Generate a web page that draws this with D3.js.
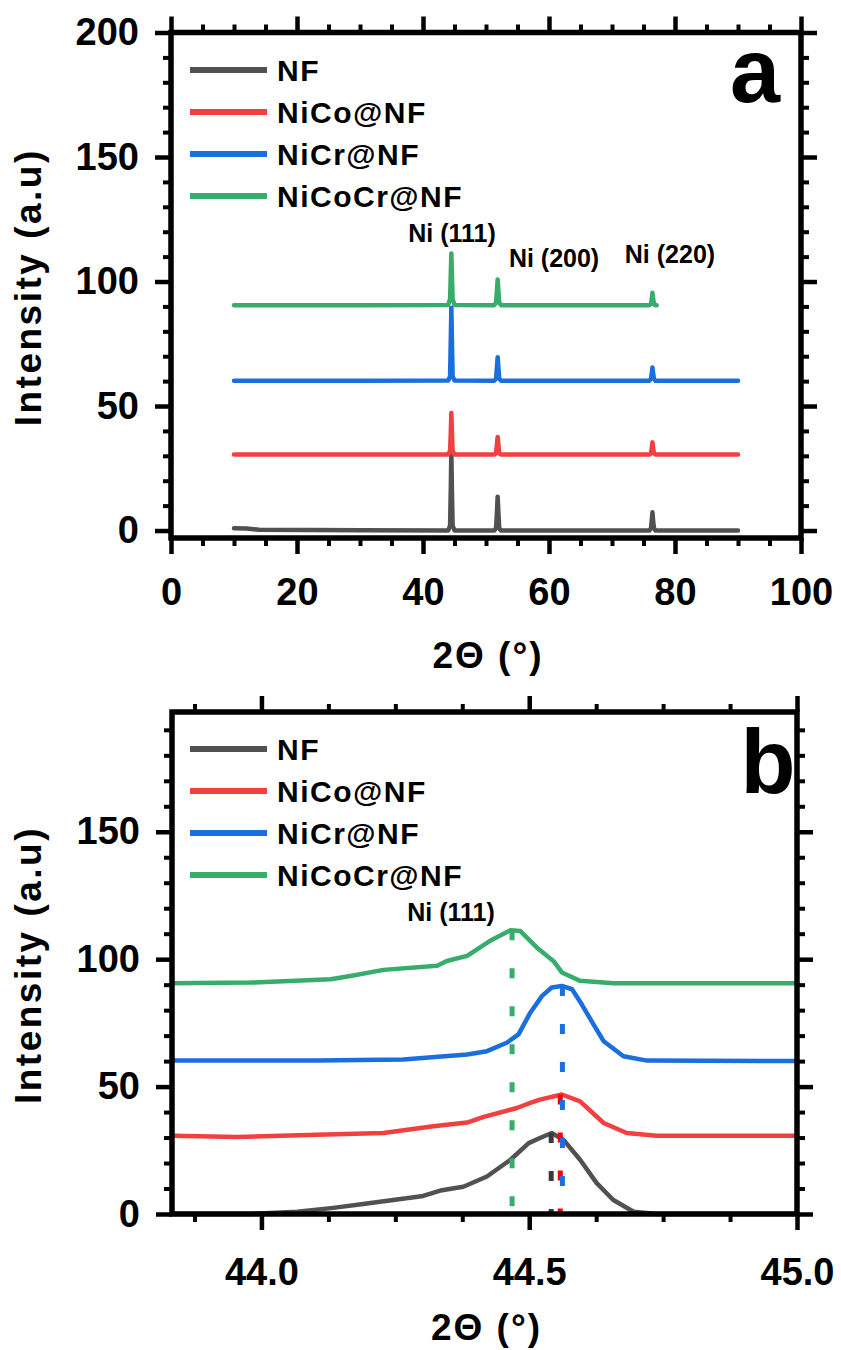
<!DOCTYPE html>
<html>
<head>
<meta charset="utf-8">
<script src="https://cdn.jsdelivr.net/npm/d3@7"></script>
<style>
  html, body { margin: 0; padding: 0; background: #fff; }
  svg { display: block; }
</style>
</head>
<body>
<div id="chart"></div>
<script>
// ---------- DATA ----------
const seriesNames = ["NF", "NiCo@NF", "NiCr@NF", "NiCoCr@NF"];
const seriesColors = ["#515151", "#F14040", "#1A6FDF", "#37AD6B"];
const dashColors = ["#3a3a3a", "#FF0000", "#1A6FDF", "#37AD6B"];

// Panel a: full XRD patterns (2θ in degrees)
const xA = [10, 12, 14, 30, 44.0, 44.3, 44.42, 44.5, 44.58, 44.7, 45.0,
            51.3, 51.6, 51.75, 51.85, 51.95, 52.1, 52.4,
            75.9, 76.2, 76.33, 76.42, 76.51, 76.65, 76.9, 77.1, 90];
const aNF     = [0.9, 0.8, 0.3, 0.1, 0, 2, 18, 31.8, 18, 2, 0, 0, 1, 8, 13.6, 8, 1, 0, 0, 1, 4.5, 7.3, 4.5, 1, 0, 0, 0];
const aNiCo   = [30.5, 30.5, 30.5, 30.5, 30.5, 32, 40, 47.2, 40, 32, 30.5, 30.5, 31, 35, 37.6, 35, 31, 30.5, 30.5, 31, 33.5, 35.4, 33.5, 31, 30.5, 30.5, 30.5];
const aNiCr   = [60.1, 60.1, 60.1, 60.1, 60.2, 62, 78, 89.5, 78, 62, 60.2, 60.1, 61, 66, 69.6, 66, 61, 60.1, 60.1, 61, 63.5, 65.5, 63.5, 61, 60.1, 60.1, 60.1];
const aNiCoCr = [90.5, 90.5, 90.5, 90.5, 90.6, 93, 104, 111.3, 104, 93, 90.6, 90.5, 91.5, 97, 100.8, 97, 91.5, 90.5, 90.5, 91, 93.5, 95.5, 93.5, 91, 90.5, 90.5, null];

const aXTicks = [0, 20, 40, 60, 80, 100];
const aYTicks = [0, 50, 100, 150, 200];
const aPeakLabels = ["Ni (111)", "Ni (200)", "Ni (220)"];
const aPeakLabelX = [44.6, 60.8, 79.2];
const aPeakLabelY = [116, 106, 107.5];

// Panel b: zoom on the Ni (111) reflection
const bxNF = [43.833, 43.979, 44.067, 44.134, 44.19, 44.246, 44.302, 44.334, 44.377, 44.421, 44.465, 44.499, 44.52, 44.542, 44.564, 44.595, 44.626, 44.657, 44.695, 44.738, 45.0];
const byNF = [0, 0, 0.9, 2.4, 3.9, 5.5, 7.1, 9.2, 10.7, 14.7, 21.3, 27.8, 29.8, 31.8, 29.1, 21.3, 12.1, 5.5, 0.9, 0, 0];
const bxNiCo = [43.833, 43.955, 44.104, 44.228, 44.321, 44.384, 44.415, 44.477, 44.502, 44.52, 44.561, 44.595, 44.639, 44.682, 44.738, 44.844, 45.0];
const byNiCo = [30.7, 30.2, 31.1, 31.8, 34.4, 35.9, 38.1, 41.6, 43.6, 44.9, 46.9, 44.2, 35.7, 31.8, 30.7, 30.7, 30.7];
const bxNiCr = [43.833, 44.104, 44.265, 44.384, 44.421, 44.458, 44.48, 44.502, 44.524, 44.542, 44.561, 44.58, 44.598, 44.62, 44.639, 44.676, 44.72, 45.0];
const byNiCr = [60.2, 60.2, 60.6, 62.6, 63.9, 67.2, 70.5, 79.0, 85.6, 88.9, 89.5, 88.2, 82.3, 74.4, 67.8, 61.9, 60.2, 60.0];
const bxNiCoCr = [43.833, 43.979, 44.129, 44.166, 44.228, 44.328, 44.346, 44.384, 44.427, 44.465, 44.483, 44.514, 44.545, 44.561, 44.595, 44.657, 45.0];
const byNiCoCr = [90.6, 90.8, 92.1, 93.4, 95.8, 97.4, 99.3, 101.3, 107.2, 111.4, 111.1, 104.6, 99.3, 94.8, 91.5, 90.6, 90.6];
const bPeakX = [44.541, 44.558, 44.562, 44.468];
const bPeakY = [31.8, 46.9, 89.5, 111.4];

const bXTicks = [44.0, 44.5, 45.0];
const bYTicks = [0, 50, 100, 150];

// ---------- DRAW ----------
const W = 841, H = 1350;
const FONT = "'Liberation Sans', Arial, Helvetica, sans-serif";
const svg = d3.select("#chart").append("svg")
  .attr("width", W).attr("height", H)
  .style("font-family", FONT).style("font-weight", "bold");

function range(a, b, step) {
  const out = [];
  const n = Math.round((b - a) / step);
  for (let i = 0; i <= n; i++) out.push(+(a + i * step).toFixed(6));
  return out;
}

function styleAxis(g, sw) {
  g.select(".domain").remove();
  g.selectAll(".tick line").attr("stroke", "#000").attr("stroke-width", sw);
  g.selectAll(".tick text").attr("fill", "#000").style("font-size", "38px")
    .style("font-weight", "bold").style("font-family", FONT);
}

function drawPanel(cfg) {
  const g = svg.append("g");
  const x = d3.scaleLinear().domain(cfg.xDomain).range([cfg.left, cfg.right]);
  const y = d3.scaleLinear().domain(cfg.yDomain).range([cfg.bottom, cfg.top]);

  const minorX = cfg.xMinor.filter(v => !cfg.xMajor.some(m => Math.abs(m - v) < 1e-6));
  const minorY = cfg.yMinor.filter(v => !cfg.yMajor.some(m => Math.abs(m - v) < 1e-6));

  const axB = g.append("g").attr("transform", `translate(0,${cfg.bottom})`)
    .call(d3.axisBottom(x).tickValues(cfg.xMajor).tickSize(16).tickPadding(cfg.xPad).tickFormat(cfg.xFmt));
  styleAxis(axB, 4.5);
  const axBm = g.append("g").attr("transform", `translate(0,${cfg.bottom})`)
    .call(d3.axisBottom(x).tickValues(minorX).tickSize(8).tickFormat(""));
  styleAxis(axBm, 4);
  const axT = g.append("g").attr("transform", `translate(0,${cfg.top})`)
    .call(d3.axisTop(x).tickValues(cfg.xMajor).tickSize(16).tickFormat(""));
  styleAxis(axT, 4.5);
  const axTm = g.append("g").attr("transform", `translate(0,${cfg.top})`)
    .call(d3.axisTop(x).tickValues(minorX).tickSize(8).tickFormat(""));
  styleAxis(axTm, 4);

  const axL = g.append("g").attr("transform", `translate(${cfg.left},0)`)
    .call(d3.axisLeft(y).tickValues(cfg.yMajor).tickSize(16).tickPadding(16).tickFormat(d3.format("d")));
  styleAxis(axL, 4.5);
  const axLm = g.append("g").attr("transform", `translate(${cfg.left},0)`)
    .call(d3.axisLeft(y).tickValues(minorY).tickSize(8).tickFormat(""));
  styleAxis(axLm, 4);
  const axR = g.append("g").attr("transform", `translate(${cfg.right},0)`)
    .call(d3.axisRight(y).tickValues(cfg.yMajor).tickSize(16).tickFormat(""));
  styleAxis(axR, 4.5);
  const axRm = g.append("g").attr("transform", `translate(${cfg.right},0)`)
    .call(d3.axisRight(y).tickValues(minorY).tickSize(8).tickFormat(""));
  styleAxis(axRm, 4);

  // series
  const line = d3.line().defined(d => d[1] != null).x(d => x(d[0])).y(d => y(d[1]));
  cfg.series.forEach((s, i) => {
    const pts = s.x.map((v, j) => [v, s.y[j]]);
    g.append("path").attr("d", line(pts))
      .attr("fill", "none").attr("stroke", seriesColors[i])
      .attr("stroke-width", cfg.lineWidth)
      .attr("stroke-linejoin", "round").attr("stroke-linecap", cfg.cap);
  });

  // peak dashed markers
  if (cfg.peakX) {
    cfg.peakX.forEach((px, i) => {
      g.append("line")
        .attr("x1", x(px)).attr("x2", x(px))
        .attr("y1", y(cfg.peakY[i])).attr("y2", y(0))
        .attr("stroke", dashColors[i]).attr("stroke-width", 5)
        .attr("stroke-dasharray", "10,28");
    });
  }

  // frame
  g.append("rect").attr("x", cfg.left).attr("y", cfg.top)
    .attr("width", cfg.right - cfg.left).attr("height", cfg.bottom - cfg.top)
    .attr("fill", "none").attr("stroke", "#000").attr("stroke-width", 5.5);

  // legend
  seriesNames.forEach((n, i) => {
    const ly = cfg.legendY + i * 42;
    g.append("line").attr("x1", 190).attr("x2", 267).attr("y1", ly).attr("y2", ly)
      .attr("stroke", seriesColors[i]).attr("stroke-width", 6);
    g.append("text").attr("x", 277).attr("y", ly).attr("dy", "0.36em")
      .style("font-size", "30px").style("letter-spacing", "1.5px").text(n);
  });

  // panel letter
  g.append("text").attr("x", cfg.letterX).attr("y", cfg.letterY)
    .attr("text-anchor", "middle").style("font-size", "90px").text(cfg.letter);

  // peak labels
  cfg.peakLabels.forEach((t, i) => {
    g.append("text").attr("x", x(cfg.peakLabelX[i])).attr("y", y(cfg.peakLabelY[i]))
      .attr("text-anchor", "middle").style("font-size", "25px").text(t);
  });

  // axis titles
  g.append("text").attr("x", (cfg.left + cfg.right) / 2 + 2).attr("y", cfg.xTitleY)
    .attr("text-anchor", "middle").style("font-size", "37px").style("letter-spacing", "2px").text("2Θ (°)");
  g.append("text")
    .attr("transform", `translate(41,${(cfg.top + cfg.bottom) / 2 + 2}) rotate(-90)`)
    .attr("text-anchor", "middle").style("font-size", "37px").style("letter-spacing", "2.5px").text("Intensity (a.u)");
}

drawPanel({
  left: 171, right: 801, top: 32.5, bottom: 538,
  xDomain: [0, 100], yDomain: [-3, 200],
  xMajor: aXTicks, xMinor: range(0, 100, 5),
  yMajor: aYTicks, yMinor: range(0, 200, 10),
  xFmt: d3.format("d"), xPad: 24,
  series: [
    { x: xA, y: aNF }, { x: xA, y: aNiCo }, { x: xA, y: aNiCr }, { x: xA, y: aNiCoCr }
  ],
  lineWidth: 4.5, cap: "round",
  legendY: 70,
  letter: "a", letterX: 755, letterY: 102,
  peakLabels: aPeakLabels, peakLabelX: aPeakLabelX, peakLabelY: aPeakLabelY,
  xTitleY: 668
});

drawPanel({
  left: 172, right: 797, top: 712, bottom: 1214,
  xDomain: [43.833, 45.0], yDomain: [0, 197],
  xMajor: bXTicks, xMinor: range(43.875, 45.0, 0.125),
  yMajor: bYTicks, yMinor: range(0, 190, 10),
  xFmt: d3.format(".1f"), xPad: 28,
  series: [
    { x: bxNF, y: byNF }, { x: bxNiCo, y: byNiCo }, { x: bxNiCr, y: byNiCr }, { x: bxNiCoCr, y: byNiCoCr }
  ],
  peakX: bPeakX, peakY: bPeakY,
  lineWidth: 4.5, cap: "butt",
  legendY: 749,
  letter: "b", letterX: 768, letterY: 793,
  peakLabels: ["Ni (111)"], peakLabelX: [44.354], peakLabelY: [115],
  xTitleY: 1340
});
</script>
</body>
</html>
